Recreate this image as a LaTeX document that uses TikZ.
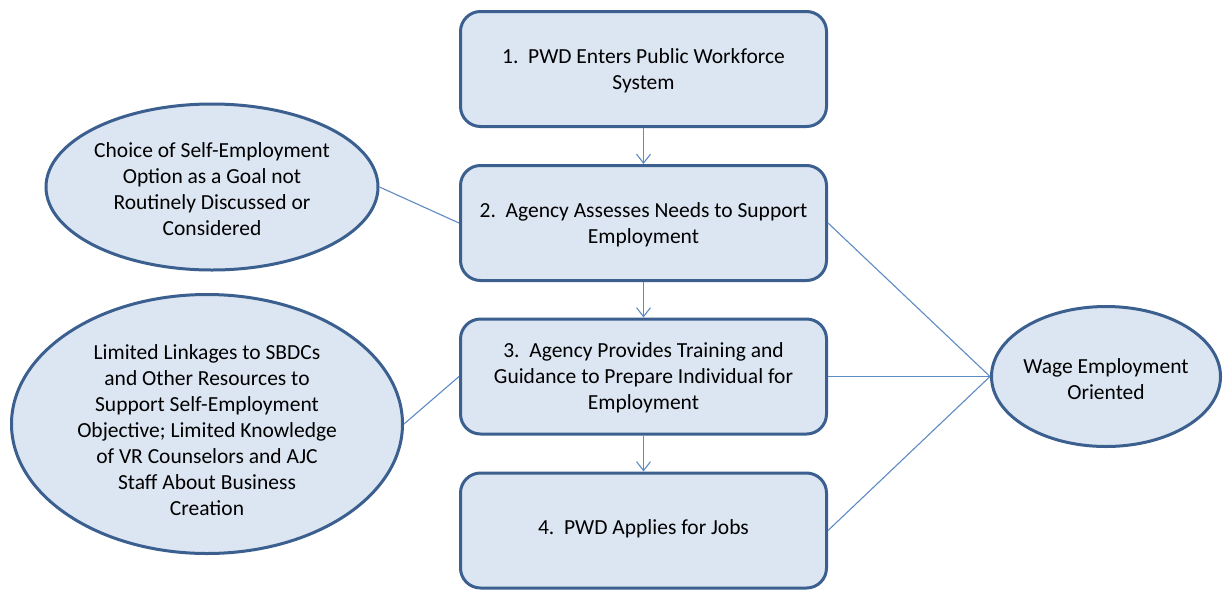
\documentclass[tikz,border=0pt]{standalone}
\usepackage{fontspec}
\setmainfont{Carlito}
\usetikzlibrary{shapes.geometric,arrows.meta}
\definecolor{fillc}{HTML}{DCE6F2}
\definecolor{borderc}{HTML}{3B5F8E}
\definecolor{linec}{HTML}{5E8BC4}
\begin{document}
\begin{tikzpicture}[x=1pt,y=-1pt,
  txt/.style={font=\fontsize{21.5}{26}\selectfont, align=center, text=black},
  stepbox/.style={draw=borderc, fill=fillc, line width=3pt, rounded corners=20pt,
    minimum width=366pt, minimum height=115pt, inner sep=0pt},
  ell/.style={draw=borderc, fill=fillc, line width=3pt, ellipse, inner sep=0pt},
  conn/.style={draw=linec, line width=1.1pt},
  flow/.style={conn, -{Straight Barb[length=9pt,width=14pt,line width=1.1pt]}}
]
\useasboundingbox (0,0) rectangle (1223,590);
\fill[white] (0,0) rectangle (1223,590);

\node[stepbox] (b1) at (643.5,69) {};
\node[txt] (t1) at (643.5,71) {1.\ \ PWD Enters Public Workforce\\System};
\node[stepbox] (b2) at (643.5,223) {};
\node[txt] (t2) at (643.5,225) {2.\ \ Agency Assesses Needs to Support\\Employment};
\node[stepbox] (b3) at (643.5,376.5) {};
\node[txt] (t3) at (643.5,378) {3.\ \ Agency Provides Training and\\Guidance to Prepare Individual for\\Employment};
\node[stepbox] (b4) at (643.5,530.5) {};
\node[txt] (t4) at (643.5,529) {4.\ \ PWD Applies for Jobs};

\node[ell, minimum width=332pt, minimum height=166pt] (e1) at (212,187) {};
\node[txt] (te1) at (212,189) {Choice of Self-Employment\\Option as a Goal not\\Routinely Discussed or\\Considered};
\node[ell, minimum width=391pt, minimum height=259pt] (e2) at (207,424) {};
\node[txt] (te2) at (207,430) {Limited Linkages to SBDCs\\and Other Resources to\\Support Self-Employment\\Objective; Limited Knowledge\\of VR Counselors and AJC\\Staff About Business\\Creation};
\node[ell, minimum width=229pt, minimum height=140pt] (w) at (1106,376.5) {};
\node[txt] (tw) at (1106,379) {Wage Employment\\Oriented};

\draw[flow] (b1) -- (b2);
\draw[flow] (b2) -- (b3);
\draw[flow] (b3) -- (b4);

\draw[conn] (e1.east) -- (b2.west);
\draw[conn] (e2.east) -- (b3.west);
\draw[conn] (b2.east) -- (w.west);
\draw[conn] (b3.east) -- (w.west);
\draw[conn] (b4.east) -- (w.west);
\end{tikzpicture}
\end{document}
